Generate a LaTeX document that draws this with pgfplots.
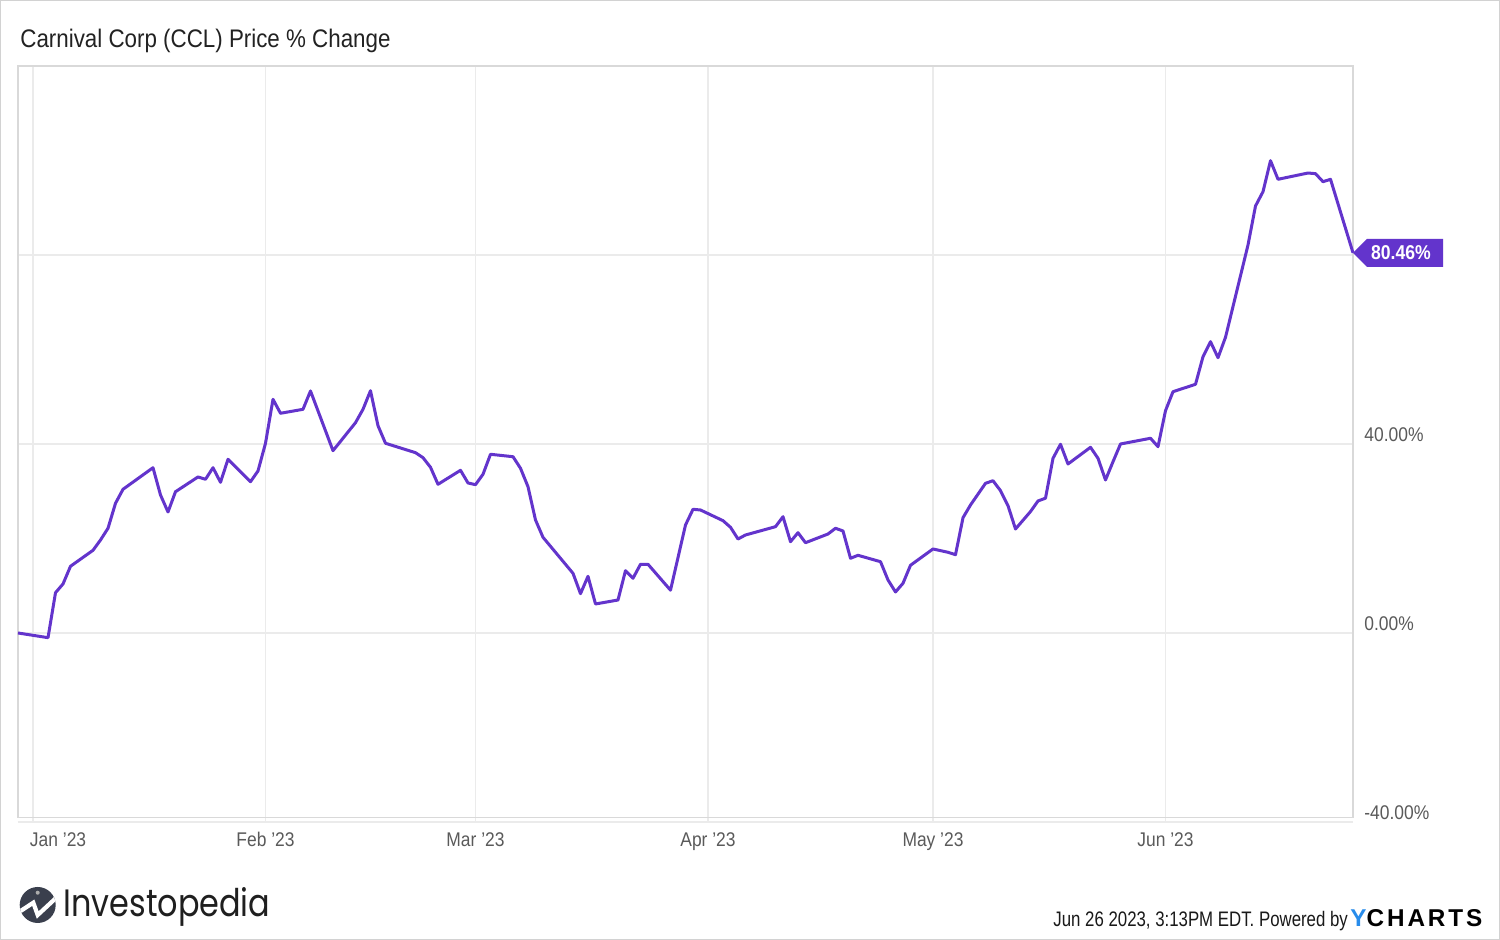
\documentclass[border=0pt]{standalone}
\usepackage{fontspec}
\setmainfont{Liberation Sans}[FakeStretch=0.88]
\newfontfamily\popfont{Poppins}
\newfontfamily\ycfont{Liberation Sans}[LetterSpace=12]
\usepackage{pgfplots}
\pgfplotsset{compat=1.18}
\definecolor{lineC}{RGB}{99,52,204}
\definecolor{gridC}{RGB}{235,235,235}
\definecolor{frameC}{RGB}{217,217,217}
\definecolor{borderC}{RGB}{210,210,210}
\definecolor{tickC}{RGB}{90,90,90}
\definecolor{titleC}{RGB}{34,34,34}
\definecolor{logoC}{RGB}{58,63,77}
\definecolor{yblue}{RGB}{40,140,235}
\newcommand{\ap}{{\char39}}
\begin{document}
\begin{tikzpicture}
\useasboundingbox (0pt,0pt) rectangle (750pt,470pt);
\fill[white] (0pt,0pt) rectangle (750pt,470pt);
\draw[borderC, line width=0.7pt] (0.35pt,0.35pt) rectangle (749.65pt,469.65pt);
\node[anchor=base west, inner sep=0pt, font=\fontsize{12.7}{15}\selectfont, text=titleC] at (10pt,446.3pt) {Carnival Corp (CCL) Price \% Change};
\begin{axis}[
  at={(9pt,59pt)}, anchor=south west,
  scale only axis, width=667.5pt, height=378pt,
  xmin=-2, xmax=176, ymin=-40, ymax=120,
  clip=false,
  axis line style={draw=none},
  major tick length=0pt, tick style={draw=none},
  xmajorgrids, ymajorgrids,
  grid style={gridC, line width=0.6pt},
  xtick={0,31,59,90,120,151},
  xticklabels={\makebox[0pt][l]{\hspace{-1.5pt}Jan \ap23},Feb \ap23,Mar \ap23,Apr \ap23,May \ap23,Jun \ap23},
  xticklabel style={anchor=base, inner sep=0pt, yshift=-12.2pt, font=\fontsize{9.9}{12}\selectfont, text=tickC},
  ytick={-40,0,40,80},
  yticklabels={-40.00\%,0.00\%,40.00\%,{}},
  yticklabel pos=right,
  yticklabel style={anchor=base west, inner sep=0pt, xshift=5.5pt, yshift=1pt, font=\fontsize{9.9}{12}\selectfont, text=tickC},
]
\draw[frameC, line width=0.6pt] (axis cs:-2,-39.09) rectangle (axis cs:176,120);
\addplot[lineC, line width=1.5pt, line join=round, mark=none] coordinates {
(-2,0) (2,-0.99) (3,8.53) (4,10.37) (5,14.12) (8,17.50) (9,19.68) (10,22.16) (11,27.45) (12,30.41)
(16,34.98) (17,29.21) (18,25.61) (19,29.90) (22,33.02) (23,32.53) (24,34.98) (25,31.89) (26,36.76)
(29,32.02) (30,34.29) (31,40.15) (32,49.46) (33,46.50) (36,47.34) (37,51.22) (40,38.58) (43,44.51)
(44,47.34) (45,51.28) (46,43.87) (47,40.15) (51,38.16) (52,37.10) (53,35.07) (54,31.47) (57,34.43)
(58,31.75) (59,31.39) (60,33.59) (61,37.82) (64,37.31) (65,34.86) (66,30.96) (67,23.92) (68,20.25)
(72,12.63) (73,8.32) (74,12.00) (75,6.14) (78,6.98) (79,13.19) (80,11.58) (81,14.54) (82,14.54)
(85,9.06) (87,22.86) (88,26.18) (89,26.03) (92,23.77) (93,22.37) (94,19.89) (95,20.74) (99,22.50)
(100,24.61) (101,19.32) (102,21.23) (103,19.11) (106,20.95) (107,22.16) (108,21.59) (109,15.81)
(110,16.44) (113,15.09) (114,11.22) (115,8.68) (116,10.52) (117,14.33) (120,17.78) (122,17.08)
(123,16.57) (124,24.40) (125,27.09) (127,31.68) (128,32.23) (129,30.12) (130,26.94) (131,22.01)
(133,25.70) (134,27.94) (135,28.53) (136,36.97) (137,39.94) (138,35.77) (141,39.30) (142,36.97)
(143,32.38) (144,36.25) (145,40.00) (149,41.21) (150,39.43) (151,47.05) (152,51.07) (155,52.63)
(156,58.48) (157,61.65) (158,58.26) (159,62.58) (162,82.12) (163,90.37) (164,93.40) (165,99.96)
(166,96.02) (170,97.35) (171,97.21) (172,95.51) (173,96.02) (176,80.46)
};
\fill[lineC] (axis cs:176,80.46) -- ++(7pt,7pt) -- ++(38pt,0pt) -- ++(0pt,-14pt) -- ++(-38pt,0pt) -- cycle;
\node[anchor=center, inner sep=0pt, text=white, font=\bfseries\fontsize{10}{12}\selectfont] at ([xshift=24pt]axis cs:176,80.46) {80.46\%};
\end{axis}
% Investopedia logo
\fill[logoC] (18.85pt,17.5pt) circle (9pt);
\begin{scope}
\clip (18.85pt,17.5pt) circle (9pt);
\draw[white, line width=2.1pt, line join=miter] (8pt,13pt) -- (16.65pt,18.65pt) -- (18.85pt,12.5pt) -- (28pt,21pt);
\end{scope}
\fill[gray!65] (18.85pt,23.65pt) circle (1pt);
\node[anchor=base west, inner sep=0pt, text=black!88] at (31.5pt,11.5pt) {\resizebox{103.5pt}{14.5pt}{\popfont Investopedia}};
% footer right
\node[anchor=base west, inner sep=0pt, font=\fontsize{10.5}{12}\selectfont, text=black!90] at (526.5pt,6.6pt) {\scalebox{0.91}[1]{Jun 26 2023, 3:13PM EDT. Powered by}};
\node[anchor=base west, inner sep=0pt] at (675pt,6.6pt) {\resizebox{66pt}{8.5pt}{\ycfont\bfseries{\color{yblue}Y}CHARTS}};
\end{tikzpicture}
\end{document}
